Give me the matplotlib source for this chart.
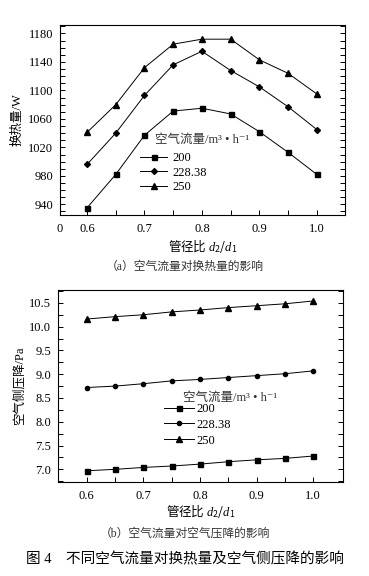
import numpy as np
import matplotlib
matplotlib.use("Agg")
import matplotlib.pyplot as plt

plt.rcParams['font.family'] = ['Liberation Serif', 'Noto Sans CJK SC', 'DejaVu Serif']
plt.rcParams['mathtext.fontset'] = 'custom'
plt.rcParams['mathtext.rm'] = 'Noto Sans CJK SC'
plt.rcParams['mathtext.it'] = 'Liberation Serif:italic'
plt.rcParams['axes.unicode_minus'] = False

# 管径比 d2/d1
ratio = [0.60, 0.65, 0.70, 0.75, 0.80, 0.85, 0.90, 0.95, 1.00]
flow_labels = ["200", "228.38", "250"]

# (a) 换热量/W
heat_200 = [935, 982, 1037, 1071, 1075, 1067, 1042, 1013, 982]
heat_228 = [996, 1040, 1093, 1136, 1155, 1128, 1105, 1077, 1045]
heat_250 = [1041, 1080, 1132, 1165, 1172, 1172, 1143, 1124, 1095]

# (b) 空气侧压降/Pa
dp_200 = [6.97, 7.00, 7.04, 7.07, 7.11, 7.16, 7.20, 7.23, 7.28]
dp_228 = [8.72, 8.75, 8.80, 8.86, 8.89, 8.93, 8.97, 9.01, 9.07]
dp_250 = [10.16, 10.21, 10.25, 10.31, 10.35, 10.40, 10.44, 10.48, 10.54]

fig = plt.figure(figsize=(3.69, 5.76), dpi=100)
ax1 = fig.add_axes([0.1626, 0.6267, 0.7724, 0.33])
ax2 = fig.add_axes([0.158, 0.1637, 0.7707, 0.3328])

markers_a = ['s', 'D', '^']
markers_b = ['s', 'o', '^']
sizes = [3.6, 3.0, 4.0]

for y, m, s, lab in zip([heat_200, heat_228, heat_250], markers_a, sizes, flow_labels):
    ax1.plot(ratio, y, color='black', lw=0.7, marker=m, ms=s, label=lab)
for y, m, s, lab in zip([dp_200, dp_228, dp_250], markers_b, sizes, flow_labels):
    ax2.plot(ratio, y, color='black', lw=0.7, marker=m, ms=s, label=lab)

fs = 9
xlab = r"$\mathrm{管径比}\ d_2/d_1$"
leg_title = "空气流量/m³ • h⁻¹"

# ---- (a)
xmin_a = 0.553
ax1.set_xlim(xmin_a, 1.049)
ax1.set_ylim(925, 1192)
ax1.set_xticks([xmin_a, 0.6, 0.7, 0.8, 0.9, 1.0])
ax1.set_xticklabels(["0", "0.6", "0.7", "0.8", "0.9", "1.0"])
ax1.set_xticks([0.65, 0.75, 0.85, 0.95], minor=True)
ax1.set_yticks(np.arange(940, 1181, 40))
ax1.set_yticks(np.arange(930, 1191, 10), minor=True)
ax1.set_ylabel("换热量/W", fontsize=fs, labelpad=3)
ax1.set_xlabel(xlab, fontsize=fs, labelpad=1)

# ---- (b)
ax2.set_xlim(0.55, 1.052)
ax2.set_ylim(6.74, 10.77)
ax2.set_xticks([0.6, 0.7, 0.8, 0.9, 1.0])
ax2.set_xticks([0.65, 0.75, 0.85, 0.95], minor=True)
ax2.set_yticks(np.arange(7.0, 10.51, 0.5))
ax2.set_yticks(np.arange(6.75, 10.76, 0.25), minor=True)
ax2.yaxis.set_major_formatter(matplotlib.ticker.FormatStrFormatter('%.1f'))
ax2.set_ylabel("空气侧压降/Pa", fontsize=fs, labelpad=3)
ax2.set_xlabel(xlab, fontsize=fs, labelpad=0)

for ax in (ax1, ax2):
    for sp in ax.spines.values():
        sp.set_linewidth(0.8)
    ax.tick_params(which='both', direction='in', length=3.5, width=0.7,
                   labelsize=fs, right=True, top=False, pad=5)
    ax.tick_params(axis='x', which='both', pad=6)

# legends
ax1.text(0.333, 0.395, leg_title, transform=ax1.transAxes,
         fontsize=fs, va='center', ha='left', color='#333333')
ax1.legend(loc='upper left', bbox_to_anchor=(0.28, 0.33), frameon=False,
           fontsize=fs, handlelength=2.2, handletextpad=0.4, labelspacing=0.2,
           borderpad=0, borderaxespad=0)

ax2.text(0.44, 0.44, leg_title, transform=ax2.transAxes,
         fontsize=fs, va='center', ha='left', color='#333333')
ax2.legend(loc='upper left', bbox_to_anchor=(0.37, 0.41), frameon=False,
           fontsize=fs, handlelength=2.4, handletextpad=0.2, labelspacing=0.3,
           borderpad=0, borderaxespad=0)

# captions
fig.text(0.5, 1 - 267 / 576, "（a）空气流量对换热量的影响", fontsize=8.5,
         ha='center', va='center', color='#333333')
fig.text(0.5, 1 - 534 / 576, "（b）空气流量对空气压降的影响", fontsize=8.5,
         ha='center', va='center', color='#333333')
fig.text(0.5, 1 - 559 / 576, "图 4    不同空气流量对换热量及空气侧压降的影响", fontsize=10.5,
         ha='center', va='center')

fig.savefig("out.png", dpi=100)
